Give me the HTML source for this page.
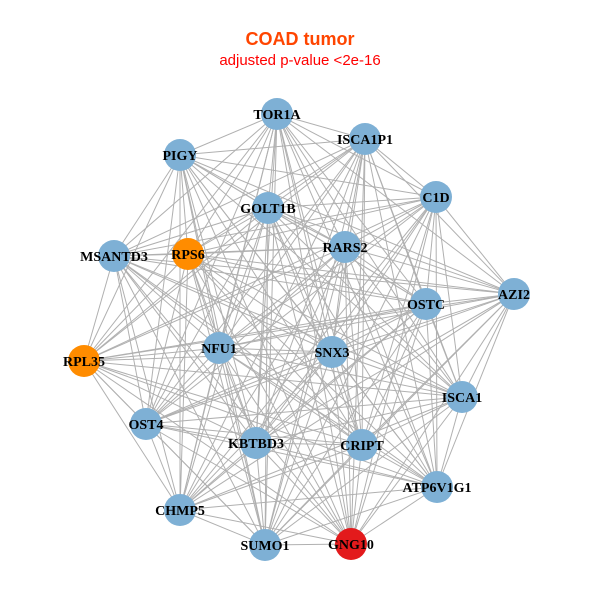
<!DOCTYPE html>
<html><head><meta charset="utf-8"><style>
html,body{margin:0;padding:0;background:#fff;width:600px;height:600px;overflow:hidden}
svg text{font-family:"Liberation Serif",serif;font-weight:bold;font-size:14px;fill:#000}
</style></head><body>
<svg id="s" width="600" height="600" xmlns="http://www.w3.org/2000/svg">
<text x="300" y="45" text-anchor="middle" style="font-family:'Liberation Sans',sans-serif;font-size:18px;fill:#ff4500;font-weight:bold">COAD tumor</text>
<text x="300" y="65" text-anchor="middle" style="font-family:'Liberation Sans',sans-serif;font-size:15px;fill:#ff0000;font-weight:normal">adjusted p-value &lt;2e-16</text>
<g id="e" stroke="#b0b0b0" stroke-width="1"></g>
<g id="n"></g>
</svg>
<script>
var N=[["TOR1A",277,114,"#7eb0d5"],["ISCA1P1",365,139,"#7eb0d5"],["PIGY",180,155,"#7eb0d5"],["C1D",436,197,"#7eb0d5"],["GOLT1B",268,208,"#7eb0d5"],["RARS2",345,247,"#7eb0d5"],["MSANTD3",114,256,"#7eb0d5"],["RPS6",188,254,"#ff8c00"],["AZI2",514,294,"#7eb0d5"],["OSTC",426,304,"#7eb0d5"],["NFU1",219,348,"#7eb0d5"],["SNX3",332,352,"#7eb0d5"],["RPL35",84,361,"#ff8c00"],["ISCA1",462,397,"#7eb0d5"],["OST4",146,424,"#7eb0d5"],["KBTBD3",256,443,"#7eb0d5"],["CRIPT",362,445,"#7eb0d5"],["ATP6V1G1",437,487,"#7eb0d5"],["CHMP5",180,510,"#7eb0d5"],["SUMO1",265,545,"#7eb0d5"],["GNG10",351,544,"#e31a1c"]];
var ns="http://www.w3.org/2000/svg",e=document.getElementById("e"),g=document.getElementById("n");
for(var i=0;i<N.length;i++)for(var j=i+1;j<N.length;j++){var l=document.createElementNS(ns,"line");l.setAttribute("x1",N[i][1]);l.setAttribute("y1",N[i][2]);l.setAttribute("x2",N[j][1]);l.setAttribute("y2",N[j][2]);e.appendChild(l);}
N.forEach(function(d){var c=document.createElementNS(ns,"circle");c.setAttribute("cx",d[1]);c.setAttribute("cy",d[2]);c.setAttribute("r",16);c.setAttribute("fill",d[3]);g.appendChild(c);});
N.forEach(function(d){var t=document.createElementNS(ns,"text");t.setAttribute("x",d[1]);t.setAttribute("y",d[2]+5);t.setAttribute("text-anchor","middle");t.textContent=d[0];g.appendChild(t);});
</script>
</body></html>
